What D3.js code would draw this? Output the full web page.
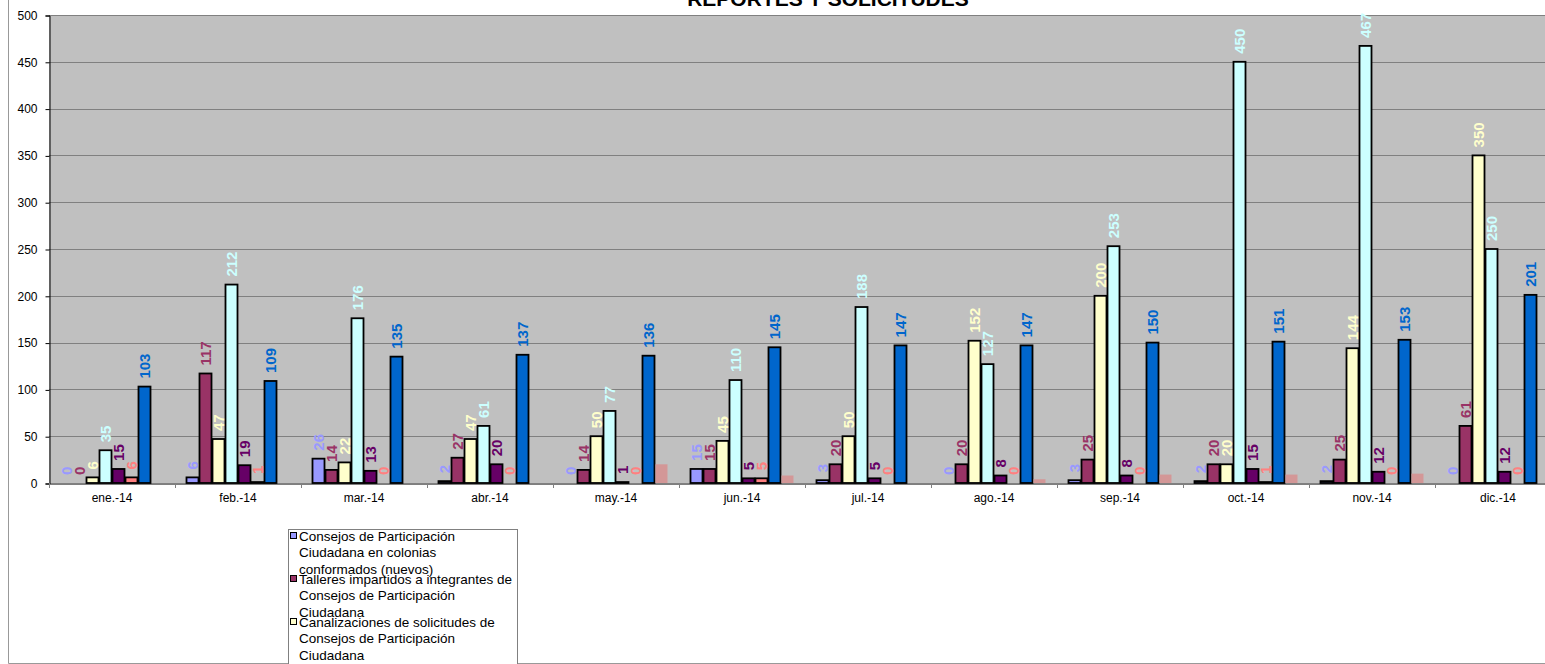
<!DOCTYPE html>
<html>
<head>
<meta charset="utf-8">
<script src="https://cdn.jsdelivr.net/npm/d3@7/dist/d3.min.js"></script>
<style>
  html, body { margin: 0; padding: 0; background: #fff; overflow: hidden; }
  svg { display: block; font-family: Arial, "Liberation Sans", sans-serif; }
</style>
</head>
<body>
<svg id="chart" width="1545" height="664"></svg>
<script>
// ---- data ----
const title = "REPORTES Y SOLICITUDES";
const months = ["ene.-14","feb.-14","mar.-14","abr.-14","may.-14","jun.-14","jul.-14","ago.-14","sep.-14","oct.-14","nov.-14","dic.-14"];
const legendLines = [
  ["Consejos de Participación", "Ciudadana en colonias", "conformados (nuevos)"],
  ["Talleres impartidos a integrantes de", "Consejos de Participación", "Ciudadana"],
  ["Canalizaciones de solicitudes de", "Consejos de Participación", "Ciudadana"]
];
const consejos       = [0, 6, 26, 2, 0, 15, 3, 0, 3, 2, 2, 0];
const talleres       = [0, 117, 14, 27, 14, 15, 20, 20, 25, 20, 25, 61];
const canalizaciones = [6, 47, 22, 47, 50, 45, 50, 152, 200, 20, 144, 350];
const serie4         = [35, 212, 176, 61, 77, 110, 188, 127, 253, 450, 467, 250];
const serie5         = [15, 19, 13, 20, 1, 5, 5, 8, 8, 15, 12, 12];
const serie6         = [6, 1, 0, 0, 0, 5, 0, 0, 0, 1, 0, 0];
const serie7         = [103, 109, 135, 137, 136, 145, 147, 147, 150, 151, 153, 201];
const serie8         = [0, 0, 0, 0, 20, 8, 0, 4, 9, 9, 10, 0];
const yTicks = [0, 50, 100, 150, 200, 250, 300, 350, 400, 450, 500];

// ---- styling ----
const fills  = ["#9999FF","#993366","#FFFFCC","#CCFFFF","#660066","#FF8080","#0066CC","#D39797"];
const labelColors = ["#9999FF","#993366","#FFFFCC","#CCFFFF","#660066","#FF8080","#0066CC", null];
const stroked = [true,true,true,true,true,true,true,false];

const allSeries = [consejos, talleres, canalizaciones, serie4, serie5, serie6, serie7, serie8];

const svg = d3.select("#chart");
const plot = {left: 49, top: 15, bottom: 483, groupW: 126};
const right = plot.left + plot.groupW * months.length;

const x0 = d3.scaleBand().domain(months).range([plot.left, right]).paddingInner(0).paddingOuter(0);
const x1 = d3.scaleBand().domain(d3.range(allSeries.length)).range([11, plot.groupW - 11]);
const y = d3.scaleLinear().domain([0, 500]).range([plot.bottom, plot.top]);

// outer chart border
svg.append("line").attr("x1", 8.5).attr("x2", 8.5).attr("y1", 0).attr("y2", 663.5).attr("stroke", "#999");
svg.append("line").attr("x1", 8.5).attr("x2", 1545).attr("y1", 663.5).attr("y2", 663.5).attr("stroke", "#999");

// plot background
svg.append("rect").attr("x", plot.left).attr("y", plot.top).attr("width", right - plot.left)
  .attr("height", plot.bottom - plot.top).attr("fill", "#C0C0C0");

// gridlines
svg.append("g").selectAll("line").data(yTicks.filter(d => d > 0)).join("line")
  .attr("x1", plot.left).attr("x2", right)
  .attr("y1", d => Math.round(y(d)) + 0.5).attr("y2", d => Math.round(y(d)) + 0.5)
  .attr("stroke", "#808080").attr("stroke-width", 1);

// y axis
const yAxis = d3.axisLeft(y).tickValues(yTicks).tickSize(4).tickPadding(8);
const gy = svg.append("g").attr("transform", `translate(${plot.left + 0.5},0.5)`).call(yAxis);
gy.select(".domain").attr("stroke", "#000");
gy.selectAll(".tick line").attr("stroke", "#000");
gy.selectAll(".tick text").attr("font-size", 12).attr("fill", "#000").attr("font-family", "Arial, 'Liberation Sans', sans-serif");

// bars
const groups = svg.append("g").selectAll("g").data(months).join("g")
  .attr("transform", m => `translate(${x0(m)},0)`);

groups.each(function(m, mi) {
  const g = d3.select(this);
  const vals = allSeries.map((s, si) => ({si, v: s[mi]}));
  g.selectAll("rect").data(vals.filter(d => d.v > 0)).join("rect")
    .attr("x", d => x1(d.si) + 0.5)
    .attr("y", d => y(d.v))
    .attr("width", x1.bandwidth() - 1)
    .attr("height", d => y(0) - y(d.v))
    .attr("fill", d => fills[d.si])
    .attr("stroke", d => stroked[d.si] ? "#000" : "none")
    .attr("stroke-width", 1.8);
  g.selectAll("text").data(vals.filter(d => labelColors[d.si])).join("text")
    .attr("transform", d => `translate(${x1(d.si) + x1.bandwidth() / 2},${y(d.v) - 8}) rotate(-90)`)
    .attr("dy", "0.36em")
    .attr("text-anchor", "start")
    .attr("font-size", 15)
    .attr("font-weight", "bold")
    .attr("fill", d => labelColors[d.si])
    .text(d => d.v);
});

// x axis
const xAxis = d3.axisBottom(x0).tickSize(0).tickPadding(10);
const gx = svg.append("g").attr("transform", `translate(0,${plot.bottom + 0.5})`).call(xAxis);
gx.select(".domain").attr("stroke", "#000");
gx.selectAll(".tick text").attr("font-size", 12).attr("fill", "#000").attr("font-family", "Arial, 'Liberation Sans', sans-serif");
svg.append("g").selectAll("line").data(d3.range(months.length + 1)).join("line")
  .attr("x1", i => plot.left + i * plot.groupW + 0.5).attr("x2", i => plot.left + i * plot.groupW + 0.5)
  .attr("y1", plot.bottom).attr("y2", plot.bottom + 5).attr("stroke", "#808080");

// title
svg.append("text").attr("x", 828).attr("y", 6).attr("text-anchor", "middle")
  .attr("font-size", 21).attr("font-weight", "bold").attr("fill", "#000").text(title);

// legend
const lg = svg.append("g");
lg.append("rect").attr("x", 288.5).attr("y", 529.5).attr("width", 229).attr("height", 160)
  .attr("fill", "#fff").attr("stroke", "#808080");
legendLines.forEach((lines, i) => {
  const cy = 536 + i * 43;
  lg.append("rect").attr("x", 290.5).attr("y", cy - 3.5).attr("width", 6).attr("height", 6)
    .attr("fill", fills[i]).attr("stroke", "#000").attr("stroke-width", 1);
  lg.append("g").selectAll("text").data(lines).join("text")
    .attr("x", 299).attr("y", (d, k) => cy + k * 16.5).attr("dy", "0.36em")
    .attr("font-size", 13.5).attr("fill", "#000").text(d => d);
});
</script>
</body>
</html>
